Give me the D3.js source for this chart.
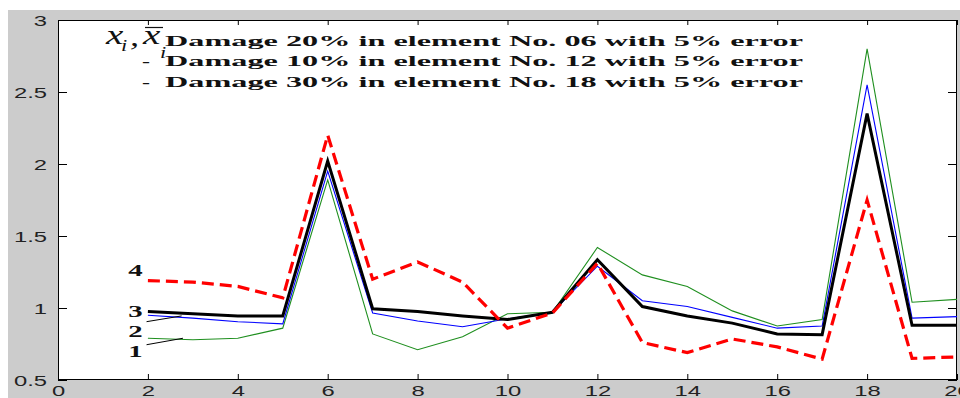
<!DOCTYPE html>
<html>
<head>
<meta charset="utf-8">
<script src="https://cdnjs.cloudflare.com/ajax/libs/d3/7.8.5/d3.min.js"></script>
<style>
  body { margin: 0; background: #fff; }
  .tick text { font: 14px "Liberation Sans", Arial, sans-serif; fill: #222; }
  .lbl { font-family: "Liberation Serif", "Times New Roman", serif; fill: #111; }
</style>
</head>
<body>
<div class="content"></div>
<script>
  // element numbers along x
  var elements = [2, 3, 4, 5, 6, 7, 8, 9, 10, 11, 12, 13, 14, 15, 16, 17, 18, 19, 20];

  // series
  var series1 = [0.79, 0.78, 0.79, 0.86, 1.89, 0.82, 0.71, 0.80, 0.96, 0.97, 1.42, 1.23, 1.15, 0.98, 0.875, 0.92, 2.80, 1.04, 1.06];
  var series2 = [0.95, 0.93, 0.905, 0.89, 1.95, 0.965, 0.91, 0.87, 0.925, 0.97, 1.29, 1.05, 1.01, 0.935, 0.86, 0.875, 2.55, 0.93, 0.94];
  var series3 = [0.975, 0.96, 0.945, 0.945, 2.02, 0.995, 0.975, 0.945, 0.92, 0.97, 1.335, 1.01, 0.945, 0.895, 0.82, 0.815, 2.35, 0.88, 0.88];
  var series4 = [1.19, 1.18, 1.15, 1.07, 2.20, 1.20, 1.32, 1.18, 0.86, 0.965, 1.31, 0.76, 0.69, 0.785, 0.73, 0.645, 1.75, 0.65, 0.66];

  var xTicks = [0, 2, 4, 6, 8, 10, 12, 14, 16, 18, 20];
  var yTicks = [0.5, 1, 1.5, 2, 2.5, 3];
  var yTickLabels = ["0.5", "1", "1.5", "2", "2.5", "3"];

  var legendLines = [
    "Damage 20% in element No. 06 with 5% error",
    "Damage 10% in element No. 12 with 5% error",
    "Damage 30% in element No. 18 with 5% error"
  ];

  var W = 960, H = 398;
  var margin = {top: 20, right: 3, bottom: 18, left: 58},
      width = W - margin.left - margin.right,
      height = H - margin.top - margin.bottom;

  var x = d3.scaleLinear().domain([0, 20]).range([0, width]);
  var y = d3.scaleLinear().domain([0.5, 3]).range([height, 0]);

  var svg = d3.select(".content").append("svg")
      .attr("width", W)
      .attr("height", H);

  // figure background
  svg.append("rect").attr("width", W).attr("height", H).attr("fill", "#fff");
  svg.append("rect").attr("x", 8).attr("y", 10).attr("width", W - 8).attr("height", H - 10).attr("fill", "#cccccc");

  var g = svg.append("g")
      .attr("transform", "translate(" + margin.left + "," + margin.top + ")");

  g.append("rect").attr("width", width).attr("height", height).attr("fill", "#fff");

  // axes, ticks pointing inward like matlab
  var sx = 1.7;
  g.append("g")
      .attr("transform", "translate(0," + height + ")")
      .call(d3.axisBottom(x).tickValues(xTicks).tickSizeInner(-6).tickSizeOuter(0))
      .call(function(a) {
        a.select(".domain").remove();
        a.selectAll("line").attr("stroke", "#000");
        a.selectAll("text").attr("y", 16).attr("dy", null)
          .attr("transform", "scale(" + sx + ",1)");
      });

  g.append("g")
      .call(d3.axisTop(x).tickValues(xTicks).tickSizeInner(-5).tickSizeOuter(0).tickFormat(""))
      .call(function(a) { a.select(".domain").remove(); a.selectAll("line").attr("stroke", "#000"); });

  g.append("g")
      .call(d3.axisLeft(y).tickValues(yTicks).tickSizeInner(-9).tickSizeOuter(0)
        .tickFormat(function(d, i) { return yTickLabels[i]; }))
      .call(function(a) {
        a.select(".domain").remove();
        a.selectAll("line").attr("stroke", "#000");
        a.selectAll("text").attr("x", -11 / sx).attr("dy", "0.36em")
          .attr("transform", "scale(" + sx + ",1)");
      });

  g.append("g")
      .attr("transform", "translate(" + width + ",0)")
      .call(d3.axisRight(y).tickValues(yTicks).tickSizeInner(-9).tickSizeOuter(0).tickFormat(""))
      .call(function(a) { a.select(".domain").remove(); a.selectAll("line").attr("stroke", "#000"); });

  g.append("rect")
      .attr("x", 0.5).attr("y", 0.5)
      .attr("width", width - 1).attr("height", height - 1)
      .attr("fill", "none").attr("stroke", "#000");

  // lines
  var line = d3.line()
      .x(function(d, i) { return x(elements[i]); })
      .y(function(d) { return y(d); });

  var lines = [
    {values: series1, color: "#1f8f1f", w: 1.1, dash: null},
    {values: series2, color: "#0000ff", w: 1.1, dash: null},
    {values: series3, color: "#000000", w: 3, dash: null},
    {values: series4, color: "#ff0000", w: 3.2, dash: "12,6"}
  ];

  g.selectAll(".series")
      .data(lines)
      .enter().append("path")
      .attr("class", "series")
      .attr("fill", "none")
      .attr("stroke", function(d) { return d.color; })
      .attr("stroke-width", function(d) { return d.w; })
      .attr("stroke-dasharray", function(d) { return d.dash; })
      .attr("stroke-linejoin", "miter")
      .attr("d", function(d) { return line(d.values); });

  // numbered labels with pointers
  var numLabels = [
    {t: "4", px: 1.72, py: 1.225},
    {t: "3", px: 1.72, py: 0.94},
    {t: "2", px: 1.72, py: 0.80},
    {t: "1", px: 1.72, py: 0.66}
  ];
  var pointers = [
    {x0: 1.97, y0: 0.905, x1: 2.75, y1: 0.945},
    {x0: 1.97, y0: 0.745, x1: 2.78, y1: 0.79}
  ];

  g.selectAll(".num")
      .data(numLabels)
      .enter().append("text")
      .attr("class", "lbl num")
      .attr("transform", function(d) { return "translate(" + x(d.px) + "," + y(d.py) + ") scale(1.8,1)"; })
      .attr("text-anchor", "middle")
      .style("font-size", "16px")
      .style("font-weight", "bold")
      .text(function(d) { return d.t; });

  g.selectAll(".ptr")
      .data(pointers)
      .enter().append("line")
      .attr("x1", function(d) { return x(d.x0); })
      .attr("y1", function(d) { return y(d.y0); })
      .attr("x2", function(d) { return x(d.x1); })
      .attr("y2", function(d) { return y(d.y1); })
      .attr("stroke", "#000")
      .attr("stroke-width", 1);

  // legend text
  g.selectAll(".leg")
      .data(legendLines)
      .enter().append("text")
      .attr("class", "lbl leg")
      .attr("x", 165 - margin.left)
      .attr("y", function(d, i) { return 45.5 + i * 20.5 - margin.top; })
      .attr("textLength", 638)
      .attr("lengthAdjust", "spacingAndGlyphs")
      .style("font-size", "15px")
      .style("font-weight", "bold")
      .text(function(d) { return d; });

  g.selectAll(".dash")
      .data([1, 2])
      .enter().append("text")
      .attr("class", "lbl")
      .attr("transform", function(d) { return "translate(" + (142 - margin.left) + "," + (45.5 + d * 20.5 - margin.top) + ") scale(1.6,1)"; })
      .style("font-size", "15px")
      .style("font-weight", "bold")
      .text("-");

  // x_i , x-bar_i symbol
  var sym = svg.append("g").attr("class", "lbl");
  function italic(px, py, t, size) {
    sym.append("text")
      .attr("transform", "translate(" + px + "," + py + ") scale(1.4,1)")
      .style("font-size", size + "px")
      .style("font-style", "italic")
      .text(t);
  }
  italic(106, 44, "x", 28);
  italic(121, 51, "i", 16);
  italic(130, 46, ",", 26);
  italic(143, 44, "x", 28);
  italic(160, 58, "i", 16);
  sym.append("line")
      .attr("x1", 145).attr("x2", 163)
      .attr("y1", 27.5).attr("y2", 27.5)
      .attr("stroke", "#111").attr("stroke-width", 1.2);
</script>
</body>
</html>
